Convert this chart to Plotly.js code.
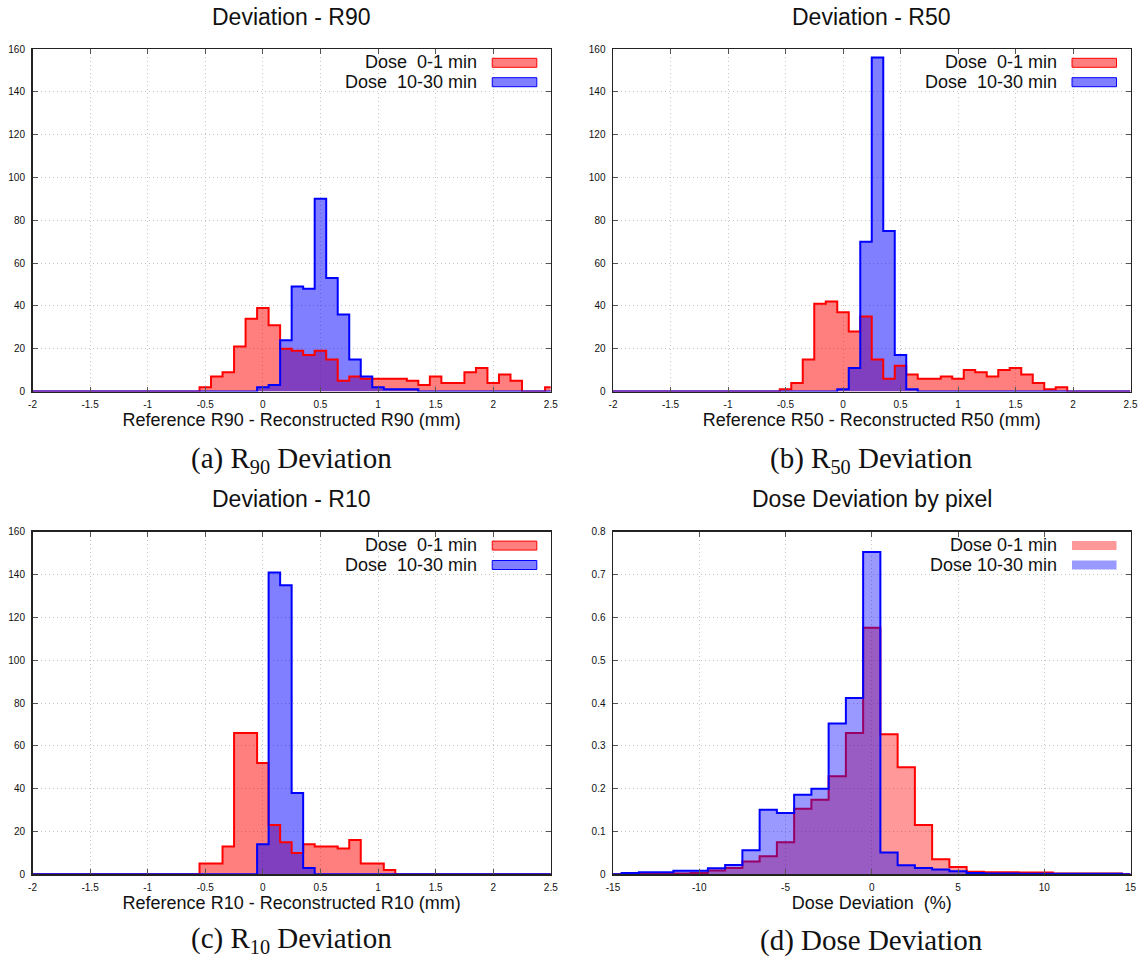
<!DOCTYPE html>
<html>
<head>
<meta charset="utf-8">
<script src="https://cdn.plot.ly/plotly-3.0.1.min.js"></script>
<style>html,body{margin:0;padding:0;background:#fff;}#chart{width:1145px;height:961px;}</style>
</head>
<body>
<div id="chart"></div>
<script>
// ---------- data (bin centres, bin width 0.1 mm for R-panels, 1 % for dose panel) ----------
const rBinFirst = -2.0, rBinStep = 0.1, rBinCount = 46;      // -2.0 ... 2.5
const doseBinFirst = -15, doseBinStep = 1, doseBinCount = 31; // -15 ... 15

// R90 deviation (counts)
const r90RedStart = -0.5;
const r90Red  = [2,7,9,21,34,39,31,20,19,17,19,15,5,7,6,6,6,6,5,3,7,4,4,9,11,4,8,5,0,0,2];
const r90BlueStart = 0.0;
const r90Blue = [2,3,24,49,48,90,53,36,15,7,2,1,1,1];

// R50 deviation (counts)
const r50RedStart = -0.5;
const r50Red  = [1,4,15,41,42,37,28,35,15,6,12,8,6,6,7,6,10,9,7,10,11,8,4,1,2];
const r50BlueStart = 0.0;
const r50Blue = [1,11,70,156,75,17,1];

// R10 deviation (counts)
const r10RedStart = -0.5;
const r10Red  = [5,5,13,66,66,52,23,15,10,14,13,13,12,16,5,5,2];
const r10BlueStart = 0.0;
const r10Blue = [14,141,135,38,3];

// Dose deviation by pixel (normalised)
const doseRedStart = -14;
const doseRed  = [0.001,0.001,0.001,0.002,0.003,0.009,0.015,0.030,0.042,0.075,0.153,0.174,0.229,0.330,0.576,
                  0.327,0.250,0.115,0.035,0.017,0.006,0.005,0.005,0.004,0.004,0.002,0.002,0.002,0.002];
const doseBlueStart = -14;
const doseBlue = [0.003,0.005,0.005,0.008,0.008,0.014,0.022,0.056,0.151,0.143,0.186,0.200,0.352,0.412,0.753,
                  0.051,0.021,0.015,0.011,0.007,0.003,0.002,0.002,0.001,0.001,0.001,0.001,0.001,0.001];

// tick labels
const rTickVals = [-2,-1.5,-1,-0.5,0,0.5,1,1.5,2,2.5];
const rTickText = ['-2','-1.5','-1','-0.5','0','0.5','1','1.5','2','2.5'];
const doseTickVals = [-15,-10,-5,0,5,10,15];
const doseTickText = ['-15','-10','-5','0','5','10','15'];
const countTickVals = [0,20,40,60,80,100,120,140,160];
const fracTickVals = [0,0.1,0.2,0.3,0.4,0.5,0.6,0.7,0.8];

const seriesNames = ['Dose\u00a0\u00a00-1 min', 'Dose\u00a0\u00a010-30 min'];
const seriesNamesD = ['Dose 0-1 min', 'Dose 10-30 min'];
const panelTitles = ['Deviation - R90', 'Deviation - R50', 'Deviation - R10', 'Dose Deviation by pixel'];
const axisTitles = ['Reference R90 - Reconstructed R90 (mm)', 'Reference R50 - Reconstructed R50 (mm)',
                    'Reference R10 - Reconstructed R10 (mm)', 'Dose Deviation\u00a0\u00a0(%)'];
const captions = ['(a) R<sub>90</sub> Deviation', '(b) R<sub>50</sub> Deviation',
                  '(c) R<sub>10</sub> Deviation', '(d) Dose Deviation'];

// ---------- helpers ----------
function centres(first, step, count) {
  const out = [];
  for (let i = 0; i < count; i++) out.push(Math.round((first + i * step) * 1000) / 1000);
  return out;
}
function fullSeries(xs, start, step, vals) {
  // place the read values at their bins, empty bins elsewhere are zero
  return xs.map(x => {
    const k = Math.round((x - start) / step);
    return (k >= 0 && k < vals.length) ? vals[k] : 0;
  });
}

const xR = centres(rBinFirst, rBinStep, rBinCount);
const xD = centres(doseBinFirst, doseBinStep, doseBinCount);

const RED = '#ff0000', BLUE = '#0000ff';
const redFillABC = 'rgba(255,0,0,0.5)', blueFillABC = 'rgba(0,0,255,0.5)';
const redFillD = 'rgba(255,0,0,0.4)', blueFillD = 'rgba(0,0,255,0.4)';

const traces = [];
function addABC(ax, xs, redStart, red, blueStart, blue) {
  const yr = fullSeries(xs, redStart, rBinStep, red);
  const yb = fullSeries(xs, blueStart, rBinStep, blue);
  const xa = 'x' + (ax === 1 ? '' : ax), ya = 'y' + (ax === 1 ? '' : ax);
  traces.push({x: xs, y: yr, xaxis: xa, yaxis: ya, type: 'scatter', mode: 'lines', line: {shape: 'hvh', width: 0, color: 'rgba(0,0,0,0)'},
               fill: 'tozeroy', fillcolor: redFillABC, showlegend: false, hoverinfo: 'skip', name: seriesNames[0]});
  traces.push({x: xs, y: yb, xaxis: xa, yaxis: ya, type: 'scatter', mode: 'lines', line: {shape: 'hvh', width: 0, color: 'rgba(0,0,0,0)'},
               fill: 'tozeroy', fillcolor: blueFillABC, showlegend: false, hoverinfo: 'skip', name: seriesNames[1]});
  traces.push({x: xs, y: yr, xaxis: xa, yaxis: ya, type: 'scatter', mode: 'lines', line: {shape: 'hvh', width: 2, color: RED},
               showlegend: false, name: seriesNames[0]});
  traces.push({x: xs, y: yb, xaxis: xa, yaxis: ya, type: 'scatter', mode: 'lines', line: {shape: 'hvh', width: 2, color: BLUE},
               showlegend: false, name: seriesNames[1]});
}
addABC(1, xR, r90RedStart, r90Red, r90BlueStart, r90Blue);
addABC(2, xR, r50RedStart, r50Red, r50BlueStart, r50Blue);
addABC(3, xR, r10RedStart, r10Red, r10BlueStart, r10Blue);

const ydr = fullSeries(xD, doseRedStart, doseBinStep, doseRed);
const ydb = fullSeries(xD, doseBlueStart, doseBinStep, doseBlue);
traces.push({x: xD, y: ydr, xaxis: 'x4', yaxis: 'y4', type: 'scatter', mode: 'lines', line: {shape: 'hvh', width: 2, color: RED},
             fill: 'tozeroy', fillcolor: redFillD, showlegend: false, name: seriesNamesD[0]});
traces.push({x: xD, y: ydb, xaxis: 'x4', yaxis: 'y4', type: 'scatter', mode: 'lines', line: {shape: 'hvh', width: 2, color: BLUE},
             fill: 'tozeroy', fillcolor: blueFillD, showlegend: false, name: seriesNamesD[1]});

// ---------- layout ----------
const W = 1145, H = 961;
const colL = [32.5 / W, 550.8 / W];
const colR = [613 / W, 1130.5 / W];
const rowT = [1 - 391.5 / H, 1 - 49 / H];
const rowB = [1 - 874.3 / H, 1 - 531.8 / H];

const SANS = 'Liberation Sans, Arial, sans-serif';
const SERIF = 'Liberation Serif, Times New Roman, serif';

function xAxis(domain, anchor, range, vals, text, title) {
  return {domain: domain, anchor: anchor, range: range, tickvals: vals, ticktext: text,
          showline: true, linecolor: '#222', linewidth: 1.5, mirror: 'ticks', ticks: 'inside', ticklen: 5,
          tickcolor: '#555', tickwidth: 1, showgrid: true, gridcolor: '#c4c4c4', griddash: '1px,3px', gridwidth: 1,
          zeroline: false, tickfont: {family: SANS, size: 10, color: '#111'}, ticklabelstandoff: 3,
          title: {text: title, font: {family: SANS, size: 18, color: '#111'}, standoff: 2}, fixedrange: true};
}
function yAxis(domain, anchor, range, vals) {
  return {domain: domain, anchor: anchor, range: range, tickvals: vals,
          showline: true, linecolor: '#222', linewidth: 1.5, mirror: 'ticks', ticks: 'inside', ticklen: 5,
          tickcolor: '#555', tickwidth: 1, showgrid: true, gridcolor: '#c4c4c4', griddash: '1px,3px', gridwidth: 1,
          zeroline: false, tickfont: {family: SANS, size: 10, color: '#111'}, ticklabelstandoff: 4, fixedrange: true};
}

const annotations = [];
const shapes = [];
const panels = [
  {x: 'x', y: 'y', cx: (colL[0] + colL[1]) / 2, ty: 1 - 17 / H, cy: 1 - 460 / H, border: true, names: seriesNames},
  {x: 'x2', y: 'y2', cx: (colR[0] + colR[1]) / 2, ty: 1 - 17 / H, cy: 1 - 460 / H, border: true, names: seriesNames},
  {x: 'x3', y: 'y3', cx: (colL[0] + colL[1]) / 2, ty: 1 - 499 / H, cy: 1 - 940 / H, border: true, names: seriesNames},
  {x: 'x4', y: 'y4', cx: (colR[0] + colR[1]) / 2, ty: 1 - 499 / H, cy: 1 - 940 / H, border: false, names: seriesNamesD}
];
panels.forEach((p, i) => {
  annotations.push({xref: 'paper', yref: 'paper', x: p.cx, y: p.ty, xanchor: 'center', yanchor: 'middle', showarrow: false,
                    text: panelTitles[i], font: {family: SANS, size: 23, color: '#111'}});
  annotations.push({xref: 'paper', yref: 'paper', x: p.cx, y: p.cy, xanchor: 'center', yanchor: 'middle', showarrow: false,
                    borderpad: 0, text: captions[i], font: {family: SERIF, size: 29, color: '#111'}});
  const xd = p.x + ' domain', yd = p.y + ' domain';
  const rows = [{ty: 0.961, y0: 0.9466, y1: 0.9728, fill: i === 3 ? redFillD : redFillABC, line: RED},
                {ty: 0.9045, y0: 0.8899, y1: 0.9162, fill: i === 3 ? blueFillD : blueFillABC, line: BLUE}];
  rows.forEach((r, k) => {
    annotations.push({xref: xd, yref: yd, x: 0.862, y: r.ty, xanchor: 'right', yanchor: 'middle', showarrow: false,
                      text: p.names[k], font: {family: SANS, size: 18, color: '#111'}});
    shapes.push({type: 'rect', xref: xd, yref: yd, x0: 0.887, x1: 0.973, y0: r.y0, y1: r.y1,
                 fillcolor: r.fill, line: {color: p.border ? r.line : 'rgba(0,0,0,0)', width: p.border ? 1 : 0}});
  });
});

const layout = {
  width: W, height: H, margin: {l: 0, r: 0, t: 0, b: 0}, paper_bgcolor: '#fff', plot_bgcolor: '#fff',
  showlegend: false, font: {family: SANS},
  xaxis:  xAxis(colL, 'y',  [-2, 2.5], rTickVals, rTickText, axisTitles[0]),
  yaxis:  yAxis(rowT, 'x',  [0, 160], countTickVals),
  xaxis2: xAxis(colR, 'y2', [-2, 2.5], rTickVals, rTickText, axisTitles[1]),
  yaxis2: yAxis(rowT, 'x2', [0, 160], countTickVals),
  xaxis3: xAxis(colL, 'y3', [-2, 2.5], rTickVals, rTickText, axisTitles[2]),
  yaxis3: yAxis(rowB, 'x3', [0, 160], countTickVals),
  xaxis4: xAxis(colR, 'y4', [-15, 15], doseTickVals, doseTickText, axisTitles[3]),
  yaxis4: yAxis(rowB, 'x4', [0, 0.8], fracTickVals),
  annotations: annotations, shapes: shapes
};

Plotly.newPlot('chart', traces, layout, {staticPlot: true, displayModeBar: false});
</script>
</body>
</html>
